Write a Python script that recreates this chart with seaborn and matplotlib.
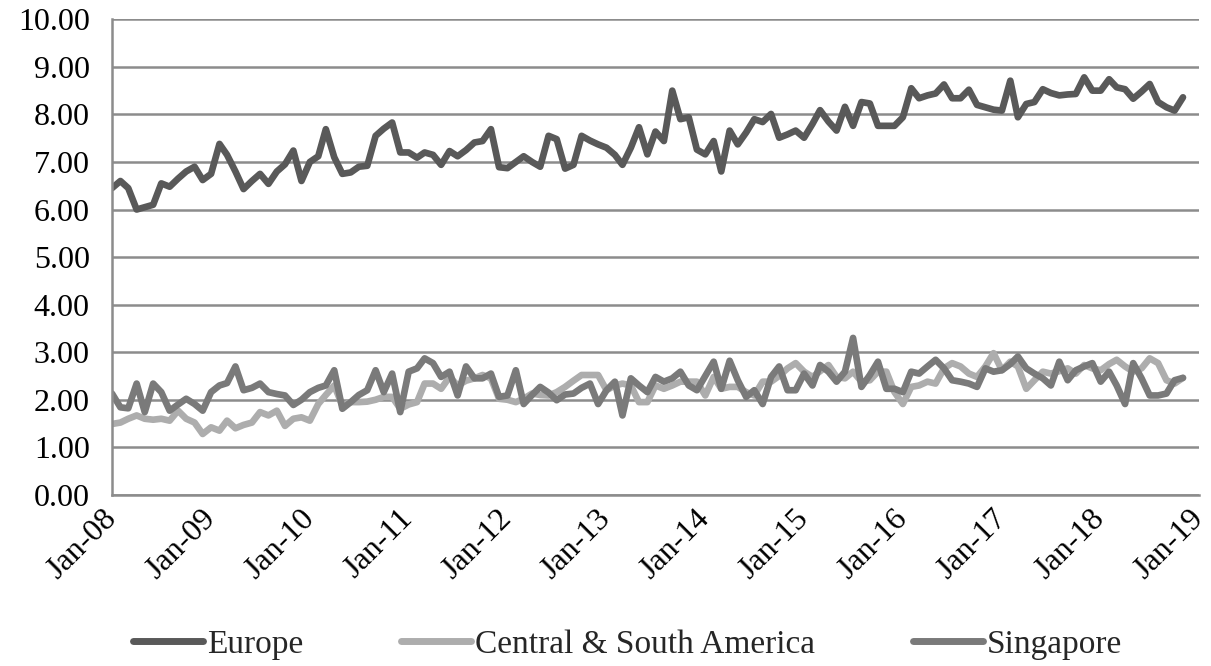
import pandas as pd
import seaborn as sns
import matplotlib.pyplot as plt
import matplotlib.dates as mdates

# monthly values, Jan-08 .. Nov-18
europe = [6.45, 6.6, 6.45, 6.0, 6.05, 6.1, 6.55, 6.48, 6.65, 6.8, 6.9, 6.62,
          6.75, 7.38, 7.15, 6.8, 6.43, 6.6, 6.75, 6.54, 6.8, 6.95, 7.24, 6.6,
          7.0, 7.12, 7.69, 7.1, 6.75, 6.78, 6.9, 6.92, 7.55, 7.7, 7.83, 7.2,
          7.2, 7.09, 7.2, 7.15, 6.94, 7.23, 7.12, 7.25, 7.41, 7.44, 7.69, 6.89,
          6.87, 7.0, 7.12, 7.0, 6.9, 7.55, 7.48, 6.86, 6.94, 7.55, 7.45, 7.37,
          7.3, 7.15, 6.94, 7.3, 7.73, 7.16, 7.64, 7.44, 8.5, 7.9, 7.94, 7.26,
          7.16, 7.44, 6.8, 7.66, 7.37, 7.62, 7.9, 7.84, 8.01, 7.51, 7.58, 7.66,
          7.51, 7.8, 8.09, 7.85, 7.66, 8.16, 7.76, 8.26, 8.23, 7.76, 7.76, 7.76,
          7.94, 8.55, 8.34, 8.4, 8.44, 8.63, 8.34, 8.34, 8.52, 8.2, 8.15, 8.1,
          8.08, 8.71, 7.94, 8.22, 8.26, 8.53, 8.45, 8.4, 8.42, 8.43, 8.78, 8.5,
          8.5, 8.74, 8.57, 8.53, 8.33, 8.48, 8.64, 8.26, 8.15, 8.08, 8.36]

central_south_america = [1.49, 1.52, 1.6, 1.67, 1.6, 1.58, 1.6, 1.56, 1.77, 1.6, 1.52, 1.28,
                         1.42, 1.35, 1.56, 1.4, 1.47, 1.52, 1.74, 1.67, 1.77, 1.45, 1.6, 1.63,
                         1.56, 1.91, 2.1, 2.3, 1.88, 1.95, 1.95, 1.96, 2.0, 2.06, 2.06, 1.81,
                         1.9, 1.95, 2.34, 2.34, 2.23, 2.48, 2.3, 2.4, 2.45, 2.52, 2.45, 2.02,
                         2.0, 1.95, 2.02, 2.13, 2.1, 2.09, 2.16, 2.27, 2.4, 2.52, 2.52, 2.52,
                         2.2, 2.3, 2.34, 2.3, 1.95, 1.95, 2.3, 2.23, 2.3, 2.38, 2.38, 2.38,
                         2.09, 2.48, 2.23, 2.27, 2.27, 2.16, 2.09, 2.38, 2.38, 2.5, 2.66, 2.77,
                         2.59, 2.48, 2.6, 2.73, 2.48, 2.45, 2.59, 2.38, 2.41, 2.59, 2.59, 2.16,
                         1.91, 2.27, 2.3, 2.38, 2.34, 2.66, 2.77, 2.7, 2.55, 2.48, 2.7, 2.98,
                         2.62, 2.8, 2.7, 2.23, 2.41, 2.59, 2.55, 2.6, 2.66, 2.55, 2.73, 2.66,
                         2.62, 2.75, 2.84, 2.7, 2.59, 2.66, 2.87, 2.77, 2.41, 2.34, 2.46]

singapore = [2.13, 1.84, 1.82, 2.34, 1.74, 2.34, 2.16, 1.77, 1.9, 2.02, 1.91, 1.77,
             2.16, 2.3, 2.35, 2.7, 2.2, 2.25, 2.34, 2.16, 2.12, 2.09, 1.89, 2.0,
             2.16, 2.25, 2.3, 2.62, 1.81, 1.95, 2.1, 2.2, 2.62, 2.16, 2.55, 1.74,
             2.59, 2.66, 2.87, 2.77, 2.48, 2.59, 2.09, 2.7, 2.45, 2.45, 2.55, 2.06,
             2.09, 2.62, 1.91, 2.1, 2.27, 2.15, 1.99, 2.11, 2.13, 2.25, 2.34, 1.91,
             2.2, 2.38, 1.67, 2.45, 2.3, 2.16, 2.48, 2.38, 2.45, 2.59, 2.3, 2.2,
             2.5, 2.8, 2.23, 2.82, 2.41, 2.06, 2.2, 1.91, 2.48, 2.7, 2.2, 2.2,
             2.55, 2.3, 2.73, 2.59, 2.38, 2.59, 3.3, 2.27, 2.52, 2.8, 2.23, 2.23,
             2.16, 2.59, 2.55, 2.7, 2.84, 2.66, 2.41, 2.38, 2.34, 2.27, 2.66, 2.59,
             2.62, 2.75, 2.91, 2.66, 2.55, 2.45, 2.3, 2.8, 2.41, 2.62, 2.7, 2.77,
             2.38, 2.59, 2.3, 1.91, 2.77, 2.45, 2.09, 2.09, 2.13, 2.41, 2.46]

series_names = ["Europe", "Central & South America", "Singapore"]
series_colors = ["#595959", "#adadad", "#7a7a7a"]

months = pd.date_range("2008-01-01", periods=len(europe), freq="MS")
frames = []
for name, vals in zip(series_names, [europe, central_south_america, singapore]):
    frames.append(pd.DataFrame({"month": months, "value": vals, "region": name}))
df = pd.concat(frames, ignore_index=True)

sns.set_style("white")
plt.rcParams["font.family"] = ["Liberation Serif", "DejaVu Serif"]

fig = plt.figure(figsize=(12.11, 6.66), dpi=100)
ax = fig.add_axes([0.0925, 0.257, 0.898, 0.714])

sns.lineplot(data=df, x="month", y="value", hue="region", hue_order=series_names,
             palette=series_colors, linewidth=4.8, ax=ax)

ax.set_ylim(0, 10)
ax.set_yticks(range(0, 11))
ax.yaxis.set_major_formatter(plt.FuncFormatter(lambda v, p: f"{v:.2f}"))
ax.set_xlim(pd.Timestamp("2008-01-01"), pd.Timestamp("2019-01-01"))
ax.set_xticks(pd.date_range("2008-01-01", "2019-01-01", freq="YS"))
ax.xaxis.set_major_formatter(mdates.DateFormatter("%b-%y"))

ax.grid(axis="y", color="#8c8c8c", linewidth=1.8)
ax.set_axisbelow(True)
for side in ["top", "right"]:
    ax.spines[side].set_visible(False)
for side in ["left", "bottom"]:
    ax.spines[side].set_color("#8c8c8c")
    ax.spines[side].set_linewidth(1.8)

ax.tick_params(axis="both", labelsize=23, colors="black", length=6, width=1.8,
               color="#8c8c8c", direction="out")
ax.tick_params(axis="y", pad=10)
ax.tick_params(axis="x", pad=2)
plt.setp(ax.get_xticklabels(), rotation=45, ha="right", va="center",
         rotation_mode="anchor")
for lbl in ax.get_xticklabels():
    lbl.set_y(-0.018)
ax.set_xlabel("")
ax.set_ylabel("")

leg = ax.legend(loc="center", bbox_to_anchor=(0.474, -0.315), ncol=3,
                frameon=False, fontsize=24, handlelength=2.1, handletextpad=0.1,
                columnspacing=2.95)
for line in leg.get_lines():
    line.set_linewidth(5)

plt.savefig("out.png", dpi=100)
